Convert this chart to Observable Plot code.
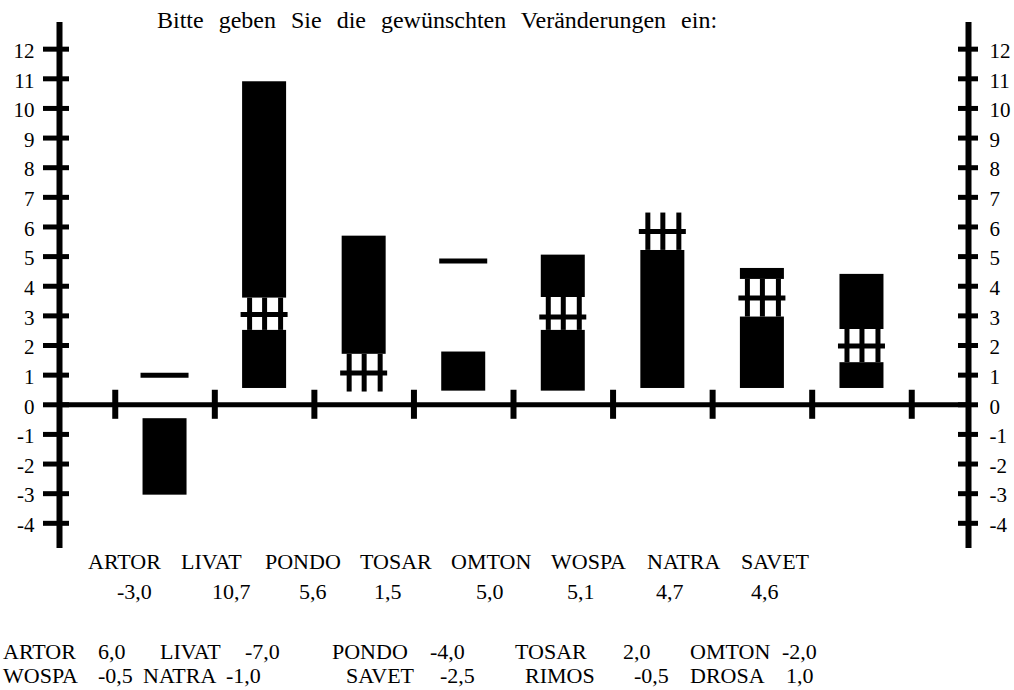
<!DOCTYPE html>
<html><head><meta charset="utf-8">
<script src="https://cdn.jsdelivr.net/npm/d3@7"></script>
<script src="https://cdn.jsdelivr.net/npm/@observablehq/plot@0.6"></script>
<style>
body{margin:0;background:#fff;}
#wrap{position:relative;width:1014px;height:690px;font-family:"Liberation Serif","Times New Roman","Liberation Sans",sans-serif;color:#000;}
#wrap svg{position:absolute;left:0;top:0;}
.t{position:absolute;white-space:pre;line-height:1;font-family:"Liberation Serif","Times New Roman","Liberation Sans",sans-serif;}
</style></head><body><div id="wrap"></div>
<script>
// ---------- data ----------
const title = "Bitte geben Sie die gewünschten Veränderungen ein:";
const slots = [0, 1, 2, 3, 4, 5, 6, 7];
const names = ["ARTOR", "LIVAT", "PONDO", "TOSAR", "OMTON", "WOSPA", "NATRA", "SAVET"];
const valueLabels = ["-3,0", "10,7", "5,6", "1,5", "5,0", "5,1", "4,7", "4,6"];
const barFrom = [-0.47, 0.55, 1.70, 0.46, 0.46, 0.55, 0.55, 0.55];
const barTo   = [-3.05, 10.9, 5.69, 1.78, 5.05, 5.21, 4.60, 4.40];
const hatchSlot = [1, 2, 4, 5, 6, 7];
const hatchFrom = [2.51, 0.43, 2.51, 5.21, 2.96, 1.42];
const hatchTo   = [3.60, 1.70, 3.62, 6.47, 4.23, 2.54];
const hatchMark = [3.05, 1.07, 2.96, 5.85, 3.60, 1.98];
const lineSlot = [0, 3];
const lineValue = [1.0, 4.85];
const yTicks = [-4, -3, -2, -1, 0, 1, 2, 3, 4, 5, 6, 7, 8, 9, 10, 11, 12];
const xTicks = [0, 1, 2, 3, 4, 5, 6, 7, 8];
const tableNames1 = ["ARTOR", "LIVAT", "PONDO", "TOSAR", "OMTON"];
const tableValues1 = ["6,0", "-7,0", "-4,0", "2,0", "-2,0"];
const tableNames2 = ["WOSPA", "NATRA", "SAVET", "RIMOS", "DROSA"];
const tableValues2 = ["-0,5", "-1,0", "-2,5", "-0,5", "1,0"];

// ---------- layout ----------
const FONT = "'Liberation Serif', 'Times New Roman', 'Liberation Sans', sans-serif";
const XL = -0.56, XR = 8.57, YB = -4.85, YT = 12.9;
const pxPerUnit = 909 / (XR - XL);
const u = p => p / pxPerUnit;
const half = u(22), halfMark = u(23.5), halfLine = u(24);

const bars = slots.map(i => ({i, y1: barFrom[i], y2: barTo[i]}));
const hatches = hatchSlot.map((i, k) => ({i, y1: hatchFrom[k], y2: hatchTo[k], m: hatchMark[k]}));
const strips = hatches.flatMap(h => [-15, 0, 16].map(o => ({...h, x: h.i + 0.5 + u(o)})));
const lines = lineSlot.map((i, k) => ({i, v: lineValue[k]}));

const plot = Plot.plot({
  width: 1014, height: 560,
  marginLeft: 59, marginRight: 46, marginTop: 22, marginBottom: 12,
  x: {domain: [XL, XR], axis: null},
  y: {domain: [YB, YT], axis: null},
  style: {fontFamily: FONT, fontSize: "21px", color: "#000", background: "#fff"},
  marks: [
    Plot.rect(bars, {x1: d => d.i + 0.5 - half, x2: d => d.i + 0.5 + half, y1: "y1", y2: "y2", fill: "#000"}),
    Plot.rect(hatches, {x1: d => d.i + 0.5 - half - u(1), x2: d => d.i + 0.5 + half + u(1), y1: "y1", y2: "y2", fill: "#fff"}),
    Plot.ruleX(strips, {x: "x", y1: "y1", y2: "y2", stroke: "#000", strokeWidth: 5}),
    Plot.ruleY(hatches, {y: "m", x1: d => d.i + 0.5 - halfMark, x2: d => d.i + 0.5 + halfMark, stroke: "#000", strokeWidth: 5}),
    Plot.ruleY(lines, {y: "v", x1: d => d.i + 0.5 - halfLine, x2: d => d.i + 0.5 + halfLine, stroke: "#000", strokeWidth: 5}),
    Plot.ruleY([0], {x1: () => XL, x2: () => XR, stroke: "#000", strokeWidth: 5}),
    Plot.ruleX(xTicks, {x: d => d, y1: () => -0.49, y2: () => 0.49, stroke: "#000", strokeWidth: 6}),
    Plot.ruleX([XL, XR], {x: d => d, y1: () => YB, y2: () => YT, stroke: "#000", strokeWidth: 6}),
    Plot.ruleY(yTicks, {y: d => d, x1: () => XL - u(16), x2: () => XL + u(10), stroke: "#000", strokeWidth: 5}),
    Plot.ruleY(yTicks, {y: d => d, x1: () => XR - u(10), x2: () => XR + u(10), stroke: "#000", strokeWidth: 5}),
    Plot.text(yTicks, {x: () => XL, y: d => d, text: d => String(d), dx: -25, dy: 2, textAnchor: "end", fill: "#000", fontFamily: FONT}),
    Plot.text(yTicks, {x: () => XR, y: d => d, text: d => String(d), dx: 21, dy: 2, textAnchor: "start", fill: "#000", fontFamily: FONT})
  ]
});
const wrap = document.getElementById("wrap");
wrap.appendChild(plot);

function addText(str, left, top, size) {
  const el = document.createElement("div");
  el.className = "t";
  el.textContent = str;
  el.style.left = left + "px";
  el.style.top = top + "px";
  el.style.fontSize = size + "px";
  wrap.appendChild(el);
  return el;
}
const tEl = addText(title, 157, 8, 24);
tEl.style.wordSpacing = "9px";
const nameX = [88, 181, 265, 360, 451, 551, 647, 741];
names.forEach((n, k) => addText(n, nameX[k], 551, 22));
const valX = [117, 212, 299, 374, 476, 567, 656, 751];
valueLabels.forEach((v, k) => addText(v, valX[k], 581, 22));
const row3X = [3, 98, 160, 245, 332, 430, 515, 623, 690, 782];
const row4X = [3, 98, 143, 226, 346, 440, 525, 634, 690, 786];
tableNames1.forEach((n, k) => { addText(n, row3X[2 * k], 641, 22); addText(tableValues1[k], row3X[2 * k + 1], 641, 22); });
tableNames2.forEach((n, k) => { addText(n, row4X[2 * k], 665, 22); addText(tableValues2[k], row4X[2 * k + 1], 665, 22); });
</script>
</body></html>
